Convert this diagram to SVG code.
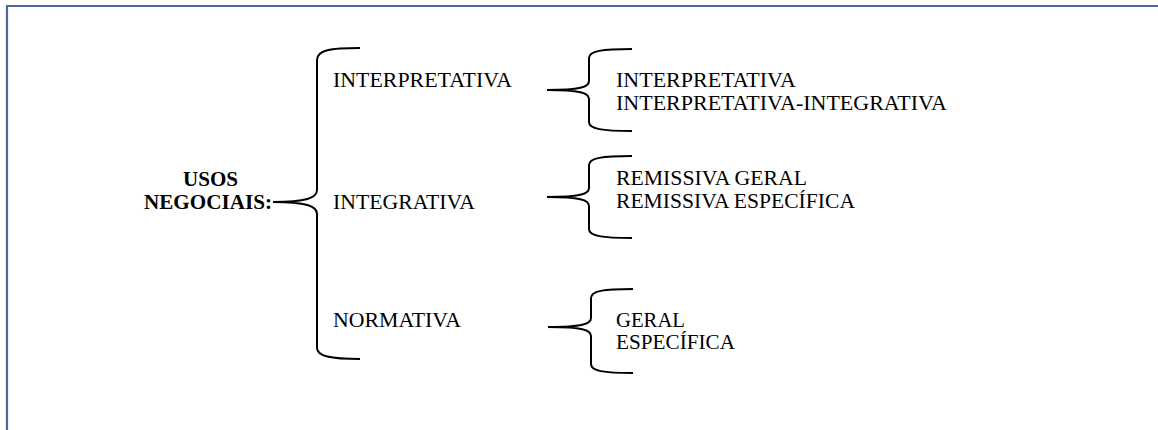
<svg xmlns="http://www.w3.org/2000/svg" width="1158" height="430" viewBox="0 0 1158 430">
<style>
.t{font-family:"Liberation Serif","Times New Roman",serif;font-size:21px;fill:#000}
.b{font-weight:bold}
.br{fill:none;stroke:#000;stroke-width:2}
</style>
<rect x="0" y="0" width="1158" height="430" fill="#fff"/>
<path d="M7,440 L7,6 L1170,6" fill="none" stroke="#4a6a9c" stroke-width="2.2"/>
<g id="root">
<text class="t b" x="183" y="186" textLength="55" lengthAdjust="spacingAndGlyphs">USOS</text>
<text class="t b" x="144" y="209" textLength="128" lengthAdjust="spacingAndGlyphs">NEGOCIAIS:</text>
</g>
<g id="interpretativa"><text class="t" x="333" y="87" textLength="179" lengthAdjust="spacingAndGlyphs">INTERPRETATIVA</text></g>
<g id="integrativa"><text class="t" x="333" y="209" textLength="142" lengthAdjust="spacingAndGlyphs">INTEGRATIVA</text></g>
<g id="normativa"><text class="t" x="333" y="327" textLength="128" lengthAdjust="spacingAndGlyphs">NORMATIVA</text></g>
<g id="sub-interpretativa">
<text class="t" x="616" y="87" textLength="180" lengthAdjust="spacingAndGlyphs">INTERPRETATIVA</text>
<text class="t" x="616" y="110" textLength="331" lengthAdjust="spacingAndGlyphs">INTERPRETATIVA-INTEGRATIVA</text>
</g>
<g id="sub-integrativa">
<text class="t" x="616" y="185" textLength="191" lengthAdjust="spacingAndGlyphs">REMISSIVA GERAL</text>
<text class="t" x="616" y="208" textLength="239" lengthAdjust="spacingAndGlyphs">REMISSIVA ESPECÍFICA</text>
</g>
<g id="sub-normativa">
<text class="t" x="616" y="327" textLength="69" lengthAdjust="spacingAndGlyphs">GERAL</text>
<text class="t" x="616" y="349" textLength="119" lengthAdjust="spacingAndGlyphs">ESPECÍFICA</text>
</g>
<g id="connectors">
<path class="br" d="M360,48 C330,48 317,50 317,60 L317,190 C317,198 306,202 273,202 C306,202 317,206 317,214 L317,348 C317,356 330,359 360,359"/>
<path class="br" d="M632,49 C602,49 589,51 589,58 L589,81 C589,87 580,90 547,90 C580,90 589,93 589,99 L589,122 C589,129 602,131 632,131"/>
<path class="br" d="M632,156 C602,156 589,158 589,165 L589,188 C589,194 580,197 547,197 C580,197 589,200 589,206 L589,229 C589,236 602,238 632,238"/>
<path class="br" d="M633,289 C603,289 591,291 591,298 L591,318 C591,324 582,327 548,327 C582,327 591,330 591,336 L591,364 C591,371 603,373 633,373"/>
</g>
</svg>
